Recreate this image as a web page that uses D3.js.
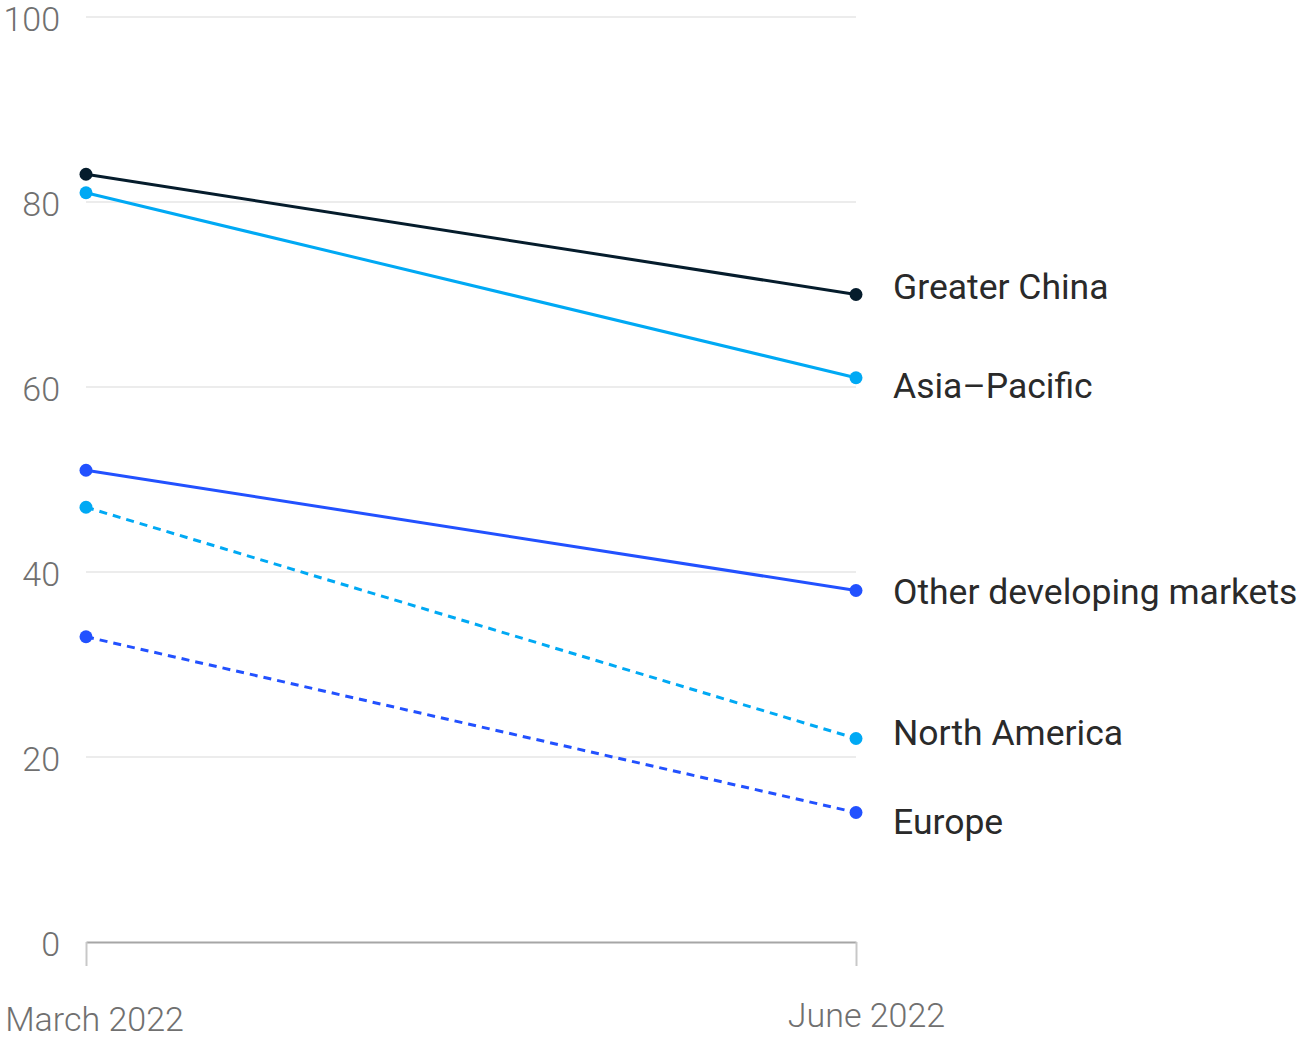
<!DOCTYPE html>
<html>
<head>
<meta charset="utf-8">
<script src="https://cdn.jsdelivr.net/npm/d3@7"></script>
<style>
  html, body { margin: 0; padding: 0; background: #fff; }
  svg { display: block; }
  text { font-family: Roboto, "Liberation Sans", sans-serif; font-weight: 300; }
  text.series-label { font-weight: 400; }
</style>
</head>
<body>
<svg id="chart" width="1301" height="1038"></svg>
<script>
// ---- data ----
const periods = ["March 2022", "June 2022"];
const seriesNames = ["Greater China", "Asia\u2013Pacific", "Other developing markets", "North America", "Europe"];
const greaterChina = [83, 70];
const asiaPacific = [81, 61];
const otherDeveloping = [51, 38];
const northAmerica = [47, 22];
const europe = [33, 14];
const yTicks = [0, 20, 40, 60, 80, 100];

// ---- styles (not data) ----
const colors = ["#051c2c", "#00a9f4", "#2251ff", "#00a9f4", "#2251ff"];
const dashed = [false, false, false, true, true];
const labelNudge = [-8, 8, 1, -6, 9];

const seriesValues = [greaterChina, asiaPacific, otherDeveloping, northAmerica, europe];
const series = seriesNames.map((name, i) => ({
  name, color: colors[i], dashed: dashed[i], nudge: labelNudge[i],
  values: periods.map((p, j) => ({ period: p, value: seriesValues[i][j] }))
}));

const svg = d3.select("#chart");
const x = d3.scalePoint().domain(periods).range([86, 856]);
const y = d3.scaleLinear().domain([0, 100]).range([942, 17]);

// gridlines
svg.append("g").selectAll("line")
  .data(yTicks.filter(t => t > 0))
  .join("line")
  .attr("x1", x(periods[0])).attr("x2", x(periods[1]))
  .attr("y1", d => y(d)).attr("y2", d => y(d))
  .attr("stroke", "#ececec").attr("stroke-width", 2);

// y tick labels
svg.append("g").selectAll("text")
  .data(yTicks)
  .join("text")
  .attr("x", 60)
  .attr("y", d => y(d))
  .attr("dy", "0.4em")
  .attr("text-anchor", "end")
  .attr("fill", "#707070")
  .attr("font-size", 34)
  .text(d => d);

// x axis
const xAxis = d3.axisBottom(x).tickSize(24).tickPadding(34).tickSizeOuter(0);
const gx = svg.append("g").attr("transform", `translate(0,${y(0)})`).call(xAxis);
gx.select(".domain").attr("stroke", "#a6a6a6").attr("stroke-width", 2);
gx.selectAll(".tick line").attr("stroke", "#c8c8c8").attr("stroke-width", 2);
gx.selectAll(".tick text")
  .attr("fill", "#707070")
  .attr("font-size", 34)
  .attr("font-family", "Roboto, 'Liberation Sans', sans-serif")
  .attr("dx", (d, i) => i === 0 ? 8 : 10)
  .attr("dy", (d, i) => i === 0 ? "0.9em" : "0.78em");

// lines
const line = d3.line().x(d => x(d.period)).y(d => y(d.value));
const g = svg.append("g");
g.selectAll("path.series")
  .data(series)
  .join("path")
  .attr("class", "series")
  .attr("fill", "none")
  .attr("stroke", d => d.color)
  .attr("stroke-width", 3)
  .attr("stroke-dasharray", d => d.dashed ? "8,6" : null)
  .attr("d", d => line(d.values));

// points
series.forEach(s => {
  g.selectAll(null)
    .data(s.values)
    .join("circle")
    .attr("cx", d => x(d.period))
    .attr("cy", d => y(d.value))
    .attr("r", 6.5)
    .attr("fill", s.color);
});

// labels
svg.append("g").selectAll("text")
  .data(series)
  .join("text")
  .attr("class", "series-label")
  .attr("x", 893)
  .attr("y", d => y(d.values[1].value) + d.nudge)
  .attr("dy", "0.35em")
  .attr("fill", "#2a2a2a")
  .attr("font-size", 35.5)
  .text(d => d.name);
</script>
</body>
</html>
